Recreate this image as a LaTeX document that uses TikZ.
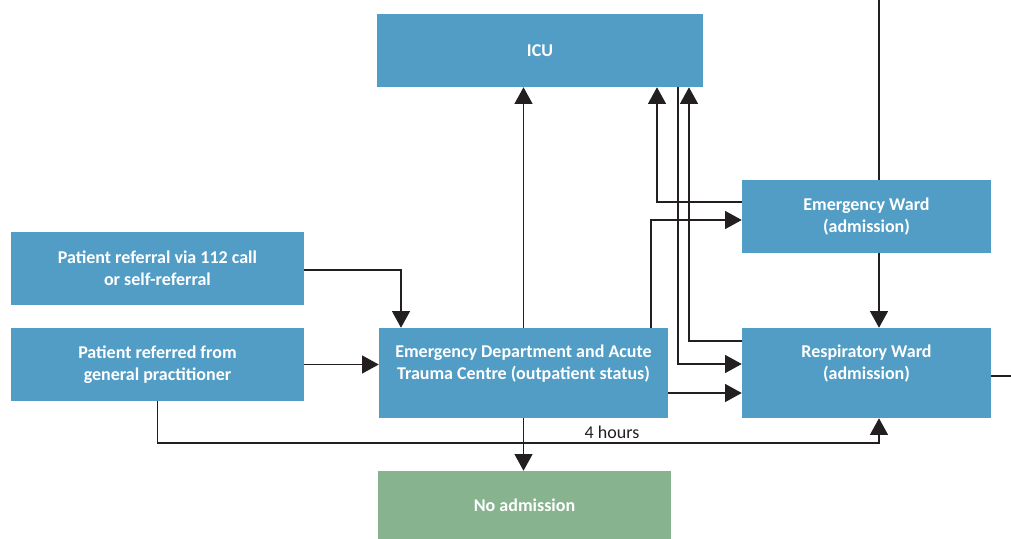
\documentclass[tikz,border=0pt]{standalone}
\usepackage{fontspec}
\setmainfont{Carlito}
\usepackage{tikz}
\usetikzlibrary{positioning,arrows.meta,calc}
\usepackage{xcolor}
\definecolor{boxblue}{HTML}{529DC5}
\definecolor{boxgreen}{HTML}{87B38F}
\definecolor{linegray}{HTML}{231F20}

\tikzset{
  ward/.style={fill=boxblue,text=white,font=\bfseries\fontsize{13.5}{16.5}\selectfont,align=center,inner sep=0pt},
  flow/.style={draw=linegray,line width=0.9pt}
}

\begin{document}
\begin{tikzpicture}[x=0.75pt,y=-0.75pt,>={Triangle[length=12.5pt,width=13.5pt]}]
\useasboundingbox (0,0) rectangle (1011,539);
\node (icu) [ward,minimum width=326*0.75pt,minimum height=73*0.75pt] at (540,50.5) {ICU};
\node (ew) [ward,minimum width=249*0.75pt,minimum height=73*0.75pt] at (866.5,216.5) {Emergency Ward\\(admission)};
\node (ref) [ward,minimum width=293*0.75pt,minimum height=73*0.75pt] at (157.5,268.5) {Patient referral via 112 call\\or self-referral};
\node (gp) [ward,minimum width=293*0.75pt,minimum height=73*0.75pt] at (157.5,364.5) {Patient referred from\\general practitioner};
\node (ed) [ward,minimum width=289*0.75pt,minimum height=90*0.75pt,text depth=16pt] at (523.5,373) {Emergency Department and Acute\\Trauma Centre (outpatient status)};
\node (rw) [ward,minimum width=249*0.75pt,minimum height=90*0.75pt,text depth=16pt] at (866.5,373) {Respiratory Ward\\(admission)};
\node (na) [ward,fill=boxgreen,minimum width=293*0.75pt,minimum height=68*0.75pt] at (524.5,505) {No admission};
\node (hrs) [font=\fontsize{13.5}{15}\selectfont,text=linegray] at (612,432) {4 hours};
\coordinate (top) at (879,0);
\coordinate (out) at (1011,376);
% lines to and from the wards
\draw[flow] (top) -- (top |- ew.north);
\draw[flow,->] (top |- ew.south) -- (top |- rw.north);
\draw[flow] (rw.east |- out) -- (out);
\draw[flow,->] (ed.north) -- (ed |- icu.south);
\draw[flow,->] (ew.west |- 0,202) -| (icu.south -| 657,0);
\draw[flow,->] (ed.north -| 651,0) |- (ew.west |- 0,220);
\draw[flow,->] (icu.south -| 678,0) |- (rw.west |- 0,364);
\draw[flow,->] (rw.west |- 0,341) -| (icu.south -| 689,0);
\draw[flow,->] (ed.east |- 0,393) -- (rw.west |- 0,393);
% referrals
\draw[flow,->] (ref.east |- 0,270) -| (ed.north -| 401,0);
\draw[flow,->] (gp.east) -- (gp -| ed.west);
\draw[flow,->] (gp.south) |- (top |- 0,443) -- (top |- rw.south);
\draw[flow,->] (ed.south) -- (ed |- na.north);
\end{tikzpicture}
\end{document}
